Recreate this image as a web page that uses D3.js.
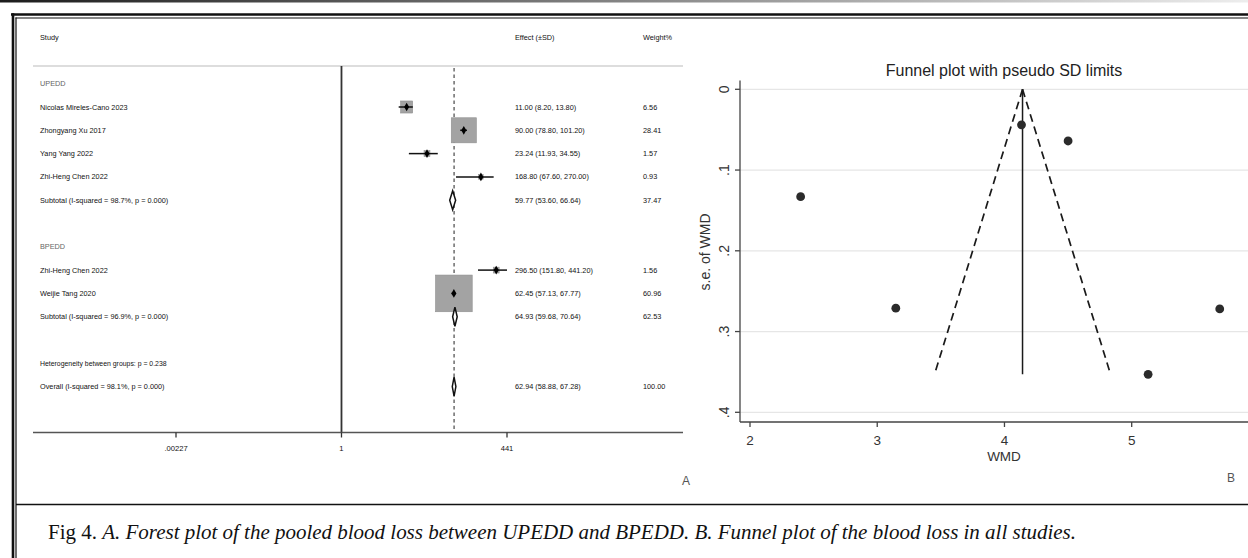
<!DOCTYPE html>
<html>
<head>
<meta charset="utf-8">
<script src="https://cdn.jsdelivr.net/npm/d3@7"></script>
<style>
  html, body { margin: 0; padding: 0; background: #fff; }
  svg { display: block; }
</style>
</head>
<body>
<svg id="fig" width="1248" height="558"></svg>
<script>
// ---- Forest plot data (panel A) ----
const studyNames = ["Nicolas Mireles-Cano 2023", "Zhongyang Xu 2017", "Yang Yang 2022", "Zhi-Heng Chen 2022", "Zhi-Heng Chen 2022", "Weijie Tang 2020"];
const studyGroups = ["UPEDD", "UPEDD", "UPEDD", "UPEDD", "BPEDD", "BPEDD"];
const studyEffect = [11.00, 90.00, 23.24, 168.80, 296.50, 62.45];
const studyLow = [8.20, 78.80, 11.93, 67.60, 151.80, 57.13];
const studyHigh = [13.80, 101.20, 34.55, 270.00, 441.20, 67.77];
const studyWeight = [6.56, 28.41, 1.57, 0.93, 1.56, 60.96];

const groupNames = ["UPEDD", "BPEDD"];
const subEffect = [59.77, 64.93];
const subLow = [53.60, 59.68];
const subHigh = [66.64, 70.64];
const subWeight = [37.47, 62.53];
const subI2 = ["98.7%", "96.9%"];

const overallEffect = 62.94;
const overallLow = 58.88;
const overallHigh = 67.28;
const overallWeight = 100.00;
const overallI2 = "98.1%";
const hetBetweenP = "0.238";

const forestTicks = [0.00227, 1, 441];
const forestTickLabels = [".00227", "1", "441"];

// ---- Funnel plot data (panel B) ----
const funnelWMD = [2.398, 4.500, 3.146, 5.129, 5.692, 4.134];
const funnelSE = [0.133, 0.064, 0.271, 0.353, 0.272, 0.044];
const pooledWMD = 4.142;
const funnelXTicks = [2, 3, 4, 5];
const funnelYTicks = [0, 0.1, 0.2, 0.3, 0.4];
const funnelYTickLabels = ["0", ".1", ".2", ".3", ".4"];

const svg = d3.select("#fig");
const sans = "'Liberation Sans', Arial, sans-serif";
const serif = "'Liberation Serif', 'Times New Roman', serif";

// ---- page frame ----
const grad = svg.append("defs").append("linearGradient").attr("id", "topbar");
grad.append("stop").attr("offset", "0%").attr("stop-color", "#1c1c1c");
grad.append("stop").attr("offset", "100%").attr("stop-color", "#ededed");
svg.append("rect").attr("x", 0).attr("y", 0).attr("width", 1248).attr("height", 2.5).attr("fill", "url(#topbar)");

svg.append("line").attr("x1", 11).attr("x2", 1248).attr("y1", 14.5).attr("y2", 14.5).attr("stroke", "#111").attr("stroke-width", 2.6);
svg.append("line").attr("x1", 15.5).attr("x2", 1248).attr("y1", 18).attr("y2", 18).attr("stroke", "#111").attr("stroke-width", 1.2);
svg.append("line").attr("x1", 13).attr("x2", 13).attr("y1", 13.2).attr("y2", 558).attr("stroke", "#111").attr("stroke-width", 2.6);
svg.append("line").attr("x1", 16).attr("x2", 16).attr("y1", 17.4).attr("y2", 558).attr("stroke", "#111").attr("stroke-width", 1.2);
svg.append("line").attr("x1", 16).attr("x2", 1248).attr("y1", 504.5).attr("y2", 504.5).attr("stroke", "#111").attr("stroke-width", 1.3);

// ---- Panel A: forest plot ----
const fx = d3.scaleLog().domain([0.00227, 441]).range([176, 507]);
const rowY = d3.scaleLinear().domain([0, 12]).range([107, 386.6]);
const boxSide = d3.scaleSqrt().domain([0, 100]).range([0, 47]);

const colStudy = 40, colEffect = 515, colWeight = 643;
const axisY = 432.5, headLineY = 66;
const fs = 7.3;
const fmt = d3.format(".2f");
const ciText = (e, l, h) => `${fmt(e)} (${fmt(l)}, ${fmt(h)})`;

const A = svg.append("g").attr("font-family", sans);

// column headers
A.append("text").attr("x", colStudy).attr("y", 37).attr("dy", "0.35em").attr("font-size", fs).attr("fill", "#111").text("Study");
A.append("text").attr("x", colEffect).attr("y", 37).attr("dy", "0.35em").attr("font-size", fs).attr("fill", "#111").text("Effect (±SD)");
A.append("text").attr("x", colWeight).attr("y", 37).attr("dy", "0.35em").attr("font-size", fs).attr("fill", "#111").text("Weight%");
A.append("line").attr("x1", 33).attr("x2", 683).attr("y1", headLineY).attr("y2", headLineY).attr("stroke", "#bbb").attr("stroke-width", 1.2);

// row layout
const rows = [];
let r = -1;
groupNames.forEach((g, gi) => {
  rows.push({ type: "head", row: r++, label: g });
  studyNames.forEach((s, i) => {
    if (studyGroups[i] !== g) return;
    rows.push({ type: "study", row: r++, label: s, e: studyEffect[i], l: studyLow[i], h: studyHigh[i], w: studyWeight[i] });
  });
  rows.push({ type: "pool", row: r++, label: `Subtotal  (I-squared = ${subI2[gi]}, p = 0.000)`, e: subEffect[gi], l: subLow[gi], h: subHigh[gi], w: subWeight[gi] });
  r += 1;
});
rows.push({ type: "note", row: r++, label: `Heterogeneity between groups: p = ${hetBetweenP}` });
rows.push({ type: "pool", row: r++, label: `Overall  (I-squared = ${overallI2}, p = 0.000)`, e: overallEffect, l: overallLow, h: overallHigh, w: overallWeight });

// null line and overall-effect line
A.append("line").attr("x1", fx(1)).attr("x2", fx(1)).attr("y1", headLineY).attr("y2", axisY).attr("stroke", "#333").attr("stroke-width", 1.8);
A.append("line").attr("x1", fx(overallEffect)).attr("x2", fx(overallEffect)).attr("y1", 68).attr("y2", axisY)
  .attr("stroke", "#555").attr("stroke-width", 1.3).attr("stroke-dasharray", "3.5,3");

// study rows
rows.forEach(d => {
  const y = rowY(d.row);
  A.append("text").attr("x", colStudy).attr("y", y).attr("dy", "0.35em")
    .attr("font-size", d.type === "note" ? 6.9 : fs)
    .attr("fill", d.type === "head" ? "#666" : "#111").text(d.label);
  if (d.type === "study") {
    const s = boxSide(d.w);
    A.append("rect").attr("x", fx(d.e) - s / 2).attr("y", y - s / 2).attr("width", s).attr("height", s)
      .attr("fill", "#a3a3a3").attr("stroke", "#8f8f8f").attr("stroke-width", 0.6);
    A.append("line").attr("x1", fx(d.l)).attr("x2", fx(d.h)).attr("y1", y).attr("y2", y).attr("stroke", "#111").attr("stroke-width", 1.5);
    A.append("path").attr("d", d3.symbol(d3.symbolDiamond, 22)()).attr("transform", `translate(${fx(d.e)},${y})`).attr("fill", "#000");
  }
  if (d.type === "pool") {
    const hh = 9.5;
    const pts = [[fx(d.l), y], [fx(d.e), y - hh], [fx(d.h), y], [fx(d.e), y + hh]];
    A.append("path").attr("d", d3.line()(pts) + "Z").attr("fill", "#fff").attr("stroke", "#111").attr("stroke-width", 1.5);
  }
  if (d.type === "study" || d.type === "pool") {
    A.append("text").attr("x", colEffect).attr("y", y).attr("dy", "0.35em").attr("font-size", fs).attr("fill", "#111").text(ciText(d.e, d.l, d.h));
    A.append("text").attr("x", colWeight).attr("y", y).attr("dy", "0.35em").attr("font-size", fs).attr("fill", "#111").text(fmt(d.w));
  }
});

// x axis
A.append("line").attr("x1", 33).attr("x2", 683).attr("y1", axisY).attr("y2", axisY).attr("stroke", "#555").attr("stroke-width", 1.6);
forestTicks.forEach((t, i) => {
  A.append("line").attr("x1", fx(t)).attr("x2", fx(t)).attr("y1", axisY).attr("y2", axisY + 5).attr("stroke", "#333").attr("stroke-width", 1.3);
  A.append("text").attr("x", fx(t)).attr("y", 448).attr("dy", "0.35em").attr("text-anchor", "middle").attr("font-size", 7.6).attr("fill", "#111").text(forestTickLabels[i]);
});
A.append("text").attr("x", 686).attr("y", 481).attr("dy", "0.35em").attr("text-anchor", "middle").attr("font-size", 12).attr("fill", "#555").text("A");

// ---- Panel B: funnel plot ----
const bx = d3.scaleLinear().domain([2, 5]).range([750, 1131.7]);
const by = d3.scaleLinear().domain([0, 0.4]).range([89.3, 412.3]);
const B = svg.append("g").attr("font-family", sans);
const frameLeft = 740, frameBottom = 422, frameTop = 80.5, frameRight = 1248;

// grid
funnelYTicks.forEach(t => {
  B.append("line").attr("x1", frameLeft).attr("x2", frameRight).attr("y1", by(t)).attr("y2", by(t)).attr("stroke", "#e6e6e6").attr("stroke-width", 1.2);
});

B.append("text").attr("x", 1004).attr("y", 70).attr("dy", "0.35em").attr("text-anchor", "middle").attr("font-size", 16).attr("fill", "#222")
  .text("Funnel plot with pseudo SD limits");

// pseudo confidence limits and pooled line
const seMax = d3.max(funnelSE);
B.append("line").attr("x1", bx(pooledWMD)).attr("x2", bx(pooledWMD)).attr("y1", by(0)).attr("y2", by(seMax)).attr("stroke", "#1a1a1a").attr("stroke-width", 1.5);
[-1, 1].forEach(sgn => {
  B.append("line").attr("x1", bx(pooledWMD)).attr("y1", by(0))
    .attr("x2", bx(pooledWMD + sgn * 1.96 * seMax)).attr("y2", by(seMax))
    .attr("stroke", "#1a1a1a").attr("stroke-width", 1.7).attr("stroke-dasharray", "8,5");
});

// studies
B.selectAll("circle.pt").data(funnelWMD).join("circle").attr("class", "pt")
  .attr("cx", d => bx(d)).attr("cy", (d, i) => by(funnelSE[i])).attr("r", 4.4).attr("fill", "#2b2b2b");

// axes
B.append("line").attr("x1", frameLeft).attr("x2", frameLeft).attr("y1", frameTop).attr("y2", frameBottom).attr("stroke", "#444").attr("stroke-width", 1.3);
B.append("line").attr("x1", frameLeft).attr("x2", frameRight).attr("y1", frameBottom).attr("y2", frameBottom).attr("stroke", "#444").attr("stroke-width", 1.3);
funnelYTicks.forEach((t, i) => {
  B.append("line").attr("x1", frameLeft - 5).attr("x2", frameLeft).attr("y1", by(t)).attr("y2", by(t)).attr("stroke", "#444").attr("stroke-width", 1.3);
  B.append("text").attr("transform", `translate(${724},${by(t)}) rotate(-90)`).attr("dy", "0.35em").attr("text-anchor", "middle")
    .attr("font-size", 14).attr("fill", "#333").text(funnelYTickLabels[i]);
});
funnelXTicks.forEach(t => {
  B.append("line").attr("x1", bx(t)).attr("x2", bx(t)).attr("y1", frameBottom).attr("y2", frameBottom + 5).attr("stroke", "#444").attr("stroke-width", 1.3);
  B.append("text").attr("x", bx(t)).attr("y", 440).attr("dy", "0.35em").attr("text-anchor", "middle").attr("font-size", 13.5).attr("fill", "#333").text(t);
});
B.append("text").attr("x", 1004).attr("y", 456.5).attr("dy", "0.35em").attr("text-anchor", "middle").attr("font-size", 13.5).attr("fill", "#333").text("WMD");
B.append("text").attr("transform", "translate(705,252) rotate(-90)").attr("dy", "0.35em").attr("text-anchor", "middle").attr("font-size", 14).attr("fill", "#333").text("s.e. of WMD");
B.append("text").attr("x", 1231).attr("y", 478).attr("dy", "0.35em").attr("text-anchor", "middle").attr("font-size", 12).attr("fill", "#555").text("B");

// ---- caption ----
const cap = svg.append("text").attr("x", 48).attr("y", 538.5).attr("font-family", serif).attr("font-size", 21).attr("fill", "#111")
  .attr("textLength", 1028).attr("lengthAdjust", "spacing");
cap.append("tspan").text("Fig 4. ");
cap.append("tspan").attr("font-style", "italic").text("A. Forest plot of  the pooled blood loss between UPEDD and BPEDD. B. Funnel plot of  the blood loss in all studies.");
</script>
</body>
</html>
